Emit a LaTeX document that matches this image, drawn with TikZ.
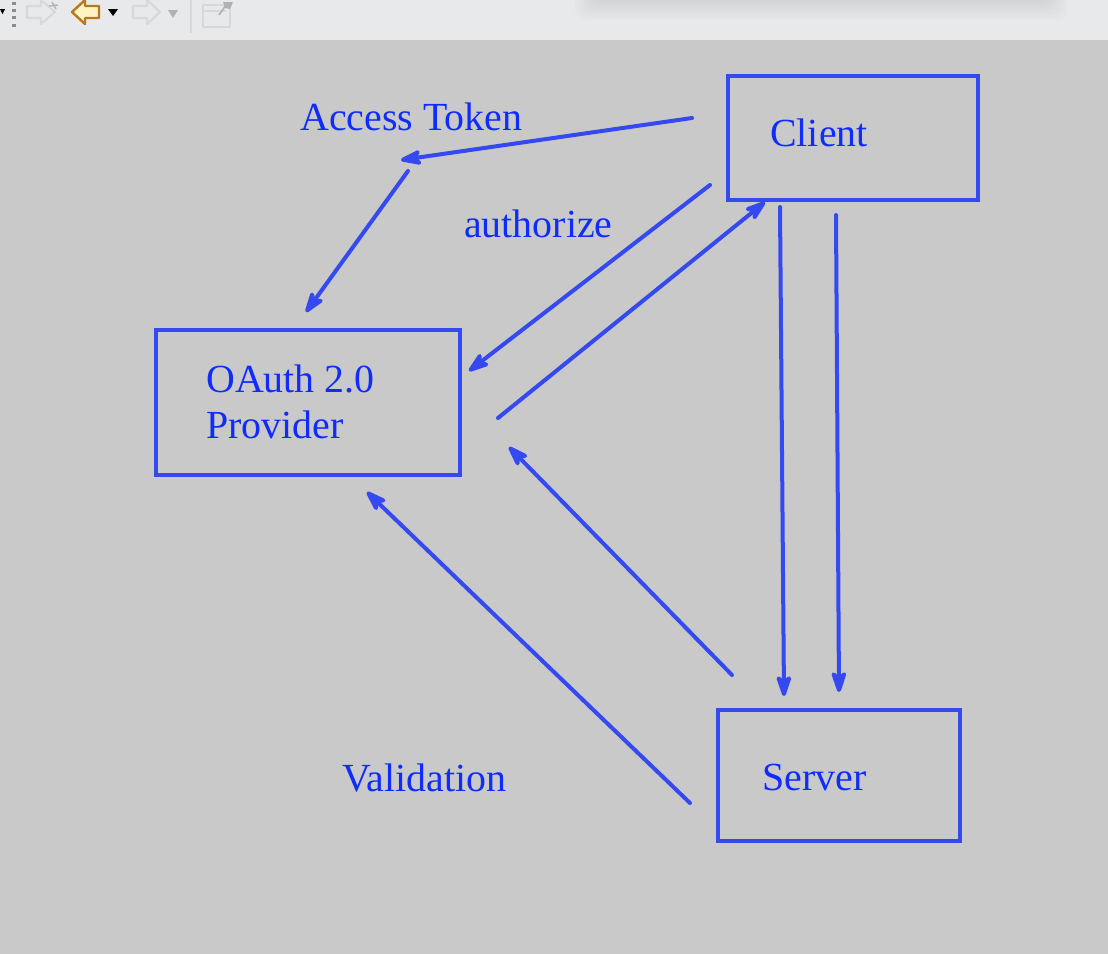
\documentclass[tikz,border=0pt]{standalone}
\usepackage{fontspec}
\setmainfont{Liberation Serif}
\usetikzlibrary{arrows.meta,shadings}
\definecolor{bgc}{HTML}{C9C9C9}
\definecolor{barc}{HTML}{E8E9EB}
\definecolor{linec}{HTML}{3549F0}
\definecolor{textc}{HTML}{0F2CFC}
\definecolor{iconc}{HTML}{D6D8DA}
\definecolor{oranc}{HTML}{B8781E}
\definecolor{fillc}{HTML}{FFF3C4}
\tikzset{
  x=0.75pt,y=-0.75pt,
  boxn/.style={draw=linec,line width=3.1pt,inner sep=0pt,anchor=north west},
  lab/.style={text=textc,font=\fontsize{29.9}{34.5}\selectfont,inner sep=0pt,anchor=base west,align=left},
  arr/.style={draw=linec,line width=3pt,line cap=round,-{Stealth[length=21pt,width=14pt,inset=6pt,round]}},
  tool/.style={draw=iconc,line width=1.6pt,fill=barc,line join=round},
}
\begin{document}
\begin{tikzpicture}
\useasboundingbox (0,0) rectangle (1108,954);
\fill[bgc] (0,0) rectangle (1108,954);
\fill[barc] (0,0) rectangle (1108,40);
% shadow of a window above
\foreach \i in {0,...,7}{
  \fill[black!45,opacity=.03,rounded corners=8pt] ({575+\i*3},-20) rectangle ({1068-\i*3},{20-\i*3});
}
% toolbar
\fill[black] (0,9) -- (5,9) -- (2.5,14) -- cycle;
\foreach \y in {2,9,16,24}{\fill[black!45] (12,\y) rectangle (16,{\y+3});}
\draw[tool] (27,6) -- (41,6) -- (41,0) -- (55,12) -- (41,24) -- (41,18) -- (27,18) -- cycle;
\draw[black!30,line width=1pt] (52,2) -- (56,9) (49,6) -- (58,5);
\draw[draw=oranc,line width=1.8pt,fill=fillc,line join=round] (99,6) -- (85,6) -- (85,0) -- (72,12) -- (85,24) -- (85,18) -- (99,18) -- cycle;
\fill[black] (108,9) -- (118,9) -- (113,16) -- cycle;
\draw[tool] (133,6) -- (147,6) -- (147,0) -- (160,12) -- (147,24) -- (147,18) -- (133,18) -- cycle;
\fill[black!30] (168,10) -- (178,10) -- (173,18) -- cycle;
\draw[iconc,line width=1.2pt] (191,0) -- (191,33);
\draw[tool] (203,5) rectangle (230,27);
\draw[iconc,line width=1pt] (203,11) -- (226,11);
\draw[black!30,line width=1.2pt] (219,15) -- (226,5);
\fill[black!30] (223,2) -- (233,2) -- (230,9) -- (225,8) -- cycle;
% boxes
\node[boxn,minimum width=188pt,minimum height=93pt] (client) at (725.5,73.5) {};
\node[boxn,minimum width=228pt,minimum height=109pt] (oauth) at (153.5,327.5) {};
\node[boxn,minimum width=182pt,minimum height=98.5pt] (server) at (715.5,708) {};
% labels
\node[lab] (tclient) at (770,146) {Client};
\node[lab] (toauth) at (206,438) {OAuth 2.0\\Provider};
\node[lab] (tserver) at (762,790) {Server};
\node[lab] (tat) at (300,130) {Access Token};
\node[lab] (tauth) at (464,237) {authorize};
\node[lab] (tval) at (342,791) {Validation};
% free ends
\coordinate (a1s) at (692,118); \coordinate (a1e) at (401,160);
\coordinate (a2s) at (408,171); \coordinate (a2e) at (306,312);
\coordinate (a3s) at (710,185); \coordinate (a3e) at (469,371);
\coordinate (a4s) at (498,418); \coordinate (a4e) at (765,202);
\coordinate (a5s) at (780,207); \coordinate (a5e) at (784,696);
\coordinate (a6s) at (836,215); \coordinate (a6e) at (839,692);
\coordinate (a7s) at (732,675); \coordinate (a7e) at (509,447);
\coordinate (a8s) at (690,803); \coordinate (a8e) at (367,492);
\foreach \n in {1,...,8}{\draw[arr] (a\n s) -- (a\n e);}
\end{tikzpicture}
\end{document}
